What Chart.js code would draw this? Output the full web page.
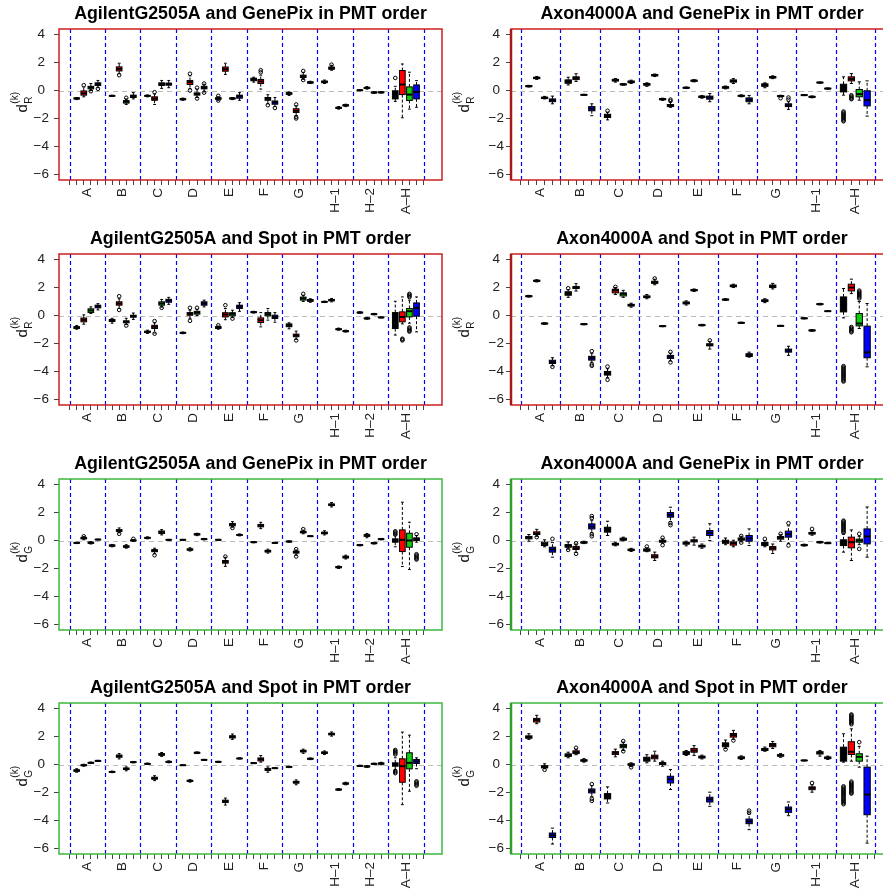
<!DOCTYPE html>
<html>
<head>
<meta charset="utf-8">
<script src="https://cdn.jsdelivr.net/npm/chart.js@4.4.1/dist/chart.umd.min.js"></script>
<style>
  html, body { margin: 0; padding: 0; background: #fff; overflow: hidden; }
  #wrap { position: relative; width: 883px; height: 890px; overflow: hidden; }
  #wrap canvas { position: absolute; }
</style>
</head>
<body>
<div id="wrap"></div>
<script>
// every box: [lower whisker, Q1, median, Q3, upper whisker, ...outliers]
const groupsLeft = ['A', 'B', 'C', 'D', 'E', 'F', 'G', 'H–1', 'H–2', 'A–H'];
const groupsRight = ['A', 'B', 'C', 'D', 'E', 'F', 'G', 'H–1', 'A–H'];
const yTicks = [-6, -4, -2, 0, 2, 4];

const agilentGenePixR = [
  [-0.65, -0.6, -0.57, -0.53, -0.5], [-0.45, -0.33, -0.2, -0.03, 0.25, 0.38], [0.0, 0.12, 0.22, 0.3, 0.5, -0.05], [0.2, 0.36, 0.45, 0.55, 0.72, 0.12],
  [-0.42, -0.4, -0.38, -0.36, -0.34], [1.2, 1.4, 1.55, 1.69, 1.95, 1.1], [-1.0, -0.9, -0.8, -0.72, -0.6, -0.52], [-0.6, -0.5, -0.4, -0.33, -0.15],
  [-0.45, -0.41, -0.38, -0.35, -0.32], [-1.0, -0.7, -0.58, -0.45, -0.25, -0.12], [0.15, 0.36, 0.47, 0.55, 0.72], [0.2, 0.38, 0.47, 0.53, 0.72],
  [-0.7, -0.66, -0.62, -0.58, -0.54], [0.15, 0.43, 0.6, 0.72, 1.05, 1.2, 0.0], [-0.5, -0.33, -0.25, -0.17, 0.1, 0.2, -0.57], [-0.1, 0.12, 0.2, 0.3, 0.45, 0.5, -0.15],
  [-0.7, -0.62, -0.57, -0.52, -0.45, -0.38, -0.72], [1.15, 1.38, 1.52, 1.68, 1.95], [-0.65, -0.6, -0.57, -0.53, -0.5], [-0.7, -0.55, -0.42, -0.33, -0.15],
  [0.6, 0.7, 0.8, 0.88, 0.95], [0.1, 0.5, 0.65, 0.79, 1.1, 1.3, 1.45], [-0.95, -0.7, -0.6, -0.5, -0.3, -1.05], [-1.15, -0.98, -0.85, -0.75, -0.5, -1.25],
  [-0.35, -0.27, -0.21, -0.16, -0.1], [-1.8, -1.57, -1.45, -1.3, -1.1, -1.0, -1.9, -2.0], [0.8, 0.93, 1.02, 1.1, 1.3, 1.4, 0.75], [0.5, 0.53, 0.58, 0.62, 0.66],
  [0.5, 0.56, 0.62, 0.68, 0.75], [1.45, 1.52, 1.6, 1.68, 1.8, 1.85], [-1.33, -1.28, -1.24, -1.2, -1.15], [-1.15, -1.1, -1.06, -1.02, -0.98],
  [-0.02, 0, 0.02, 0.04, 0.06], [0.1, 0.15, 0.19, 0.22, 0.28], [-0.2, -0.17, -0.14, -0.11, -0.08], [-0.18, -0.16, -0.13, -0.11, -0.08],
  [-0.78, -0.6, -0.3, -0.02, 0.3, 0.9], [-1.95, -0.29, 0.43, 1.43, 1.9], [-1.33, -0.71, -0.29, 0.26, 1.31], [-1.2, -0.6, -0.1, 0.4, 0.71]
];

const axonGenePixR = [
  [0.25, 0.28, 0.31, 0.34, 0.37], [0.8, 0.85, 0.9, 0.95, 1.0], [-0.6, -0.56, -0.52, -0.48, -0.42], [-0.95, -0.8, -0.7, -0.6, -0.4],
  [0.4, 0.52, 0.65, 0.76, 0.95], [0.65, 0.78, 0.9, 0.98, 1.2], [-0.35, -0.33, -0.31, -0.29, -0.27], [-1.8, -1.45, -1.3, -1.15, -0.95],
  [-2.1, -1.93, -1.83, -1.7, -1.55, -1.45], [0.6, 0.68, 0.74, 0.8, 0.86], [0.38, 0.41, 0.44, 0.47, 0.5], [0.5, 0.56, 0.62, 0.68, 0.74],
  [0.3, 0.38, 0.45, 0.5, 0.55], [1.0, 1.05, 1.1, 1.14, 1.18], [-0.7, -0.66, -0.62, -0.58, -0.55], [-1.2, -1.15, -1.07, -1.0, -0.8, -0.65, -0.75],
  [0.14, 0.17, 0.2, 0.22, 0.25], [0.62, 0.66, 0.7, 0.74, 0.78], [-0.55, -0.5, -0.45, -0.4, -0.35], [-0.8, -0.62, -0.5, -0.4, -0.22],
  [0.12, 0.17, 0.22, 0.27, 0.32], [0.5, 0.6, 0.68, 0.76, 0.85], [-0.45, -0.41, -0.38, -0.35, -0.31], [-0.95, -0.8, -0.67, -0.53, -0.35],
  [0.2, 0.3, 0.4, 0.48, 0.55], [0.85, 0.9, 0.95, 1.0, 1.05], [-0.45, -0.42, -0.4, -0.37, -0.34, -0.55], [-1.35, -1.15, -1.05, -0.95, -0.8, -0.5, -0.65],
  [-0.36, -0.34, -0.33, -0.31, -0.3], [-0.52, -0.48, -0.45, -0.42, -0.39], [0.53, 0.55, 0.57, 0.59, 0.61], [0.1, 0.12, 0.14, 0.16, 0.18],
  [-0.33, -0.1, 0.2, 0.45, 0.98, -1.5, -1.58, -1.66, -1.74, -1.82, -1.9, -1.98, -2.06, -2.14, -2.2],
  [0.5, 0.69, 0.83, 0.98, 1.21, -0.34, -0.42, -0.5, -0.58, -0.62],
  [-0.69, -0.45, -0.26, 0.07, 0.62], [-1.83, -1.1, -0.69, -0.02, 0.69]
];

const agilentSpotR = [
  [-0.98, -0.92, -0.86, -0.8, -0.72], [-0.62, -0.45, -0.31, -0.18, 0.05], [0.14, 0.22, 0.36, 0.48, 0.62], [0.4, 0.55, 0.67, 0.74, 0.85],
  [-0.55, -0.43, -0.35, -0.28, -0.2], [0.5, 0.74, 0.86, 0.98, 1.2, 1.38, 0.4], [-0.65, -0.52, -0.45, -0.38, -0.2, -0.72], [-0.28, -0.12, -0.05, 0.02, 0.18],
  [-1.28, -1.22, -1.17, -1.12, -1.05], [-1.25, -0.93, -0.81, -0.7, -0.52, -0.4, -1.3], [0.6, 0.74, 0.86, 0.98, 1.15, 0.55], [0.8, 0.95, 1.08, 1.16, 1.3],
  [-1.3, -1.27, -1.24, -1.21, -1.18], [-0.2, 0.02, 0.12, 0.21, 0.38, 0.55, -0.38], [0.0, 0.1, 0.21, 0.3, 0.45, 0.55], [0.62, 0.74, 0.86, 0.98, 1.1],
  [-0.98, -0.92, -0.86, -0.8, -0.75, -0.7], [-0.3, -0.1, 0.07, 0.2, 0.5, 0.74], [-0.15, -0.02, 0.12, 0.2, 0.38, -0.22], [0.3, 0.5, 0.64, 0.74, 0.92],
  [0.18, 0.21, 0.24, 0.27, 0.3], [-0.81, -0.5, -0.33, -0.17, 0.21], [-0.33, -0.02, 0.1, 0.21, 0.5], [-0.48, -0.21, -0.1, 0.02, 0.21],
  [-0.95, -0.8, -0.7, -0.6, -0.52], [-1.7, -1.52, -1.43, -1.33, -1.12, -1.78], [1.0, 1.1, 1.22, 1.32, 1.45, 1.55], [0.95, 1.02, 1.08, 1.14, 1.2],
  [0.94, 0.96, 0.98, 1.0, 1.02], [0.98, 1.05, 1.1, 1.15, 1.22], [-1.05, -1.01, -0.98, -0.95, -0.9], [-1.18, -1.15, -1.12, -1.09, -1.05],
  [0.16, 0.19, 0.21, 0.24, 0.27], [-0.26, -0.23, -0.21, -0.18, -0.15], [0.05, 0.08, 0.1, 0.12, 0.15], [-0.17, -0.15, -0.14, -0.12, -0.1],
  [-1.4, -0.93, -0.62, 0.21, 1.02],
  [-0.6, -0.45, -0.1, 0.26, 1.33, -1.66, -1.72, -1.78],
  [-0.55, -0.1, 0.31, 0.5, 1.1, 1.32, 1.4, 1.48, 1.55, -0.85, -0.93, -1.01, -1.09, -1.15],
  [-1.17, -0.05, 0.55, 0.9, 1.33]
];

const axonSpotR = [
  [1.32, 1.35, 1.38, 1.41, 1.44], [2.4, 2.45, 2.48, 2.52, 2.56], [-0.62, -0.6, -0.57, -0.55, -0.52], [-3.6, -3.43, -3.33, -3.2, -3.02, -3.67],
  [1.3, 1.45, 1.6, 1.7, 1.85, 1.95], [1.75, 1.93, 2.0, 2.08, 2.28], [-0.66, -0.64, -0.62, -0.6, -0.57], [-3.35, -3.19, -3.05, -2.92, -2.7, -2.55, -3.5, -3.6],
  [-4.45, -4.26, -4.12, -4.0, -3.8, -3.65, -4.6], [1.5, 1.62, 1.8, 1.88, 2.0, 2.05], [1.3, 1.4, 1.55, 1.62, 1.8], [0.6, 0.68, 0.74, 0.8, 0.88],
  [1.2, 1.28, 1.34, 1.4, 1.5], [2.2, 2.3, 2.38, 2.45, 2.6, 2.65], [-0.8, -0.78, -0.76, -0.74, -0.72], [-3.25, -3.07, -2.95, -2.85, -2.7, -2.6, -3.35],
  [0.75, 0.83, 0.9, 0.97, 1.05], [1.72, 1.77, 1.82, 1.86, 1.9], [-0.74, -0.72, -0.69, -0.66, -0.63], [-2.4, -2.17, -2.1, -2.02, -1.85, -1.78],
  [1.08, 1.11, 1.14, 1.17, 1.2], [2.0, 2.06, 2.12, 2.18, 2.24], [-0.56, -0.54, -0.52, -0.5, -0.48], [-2.98, -2.93, -2.83, -2.73, -2.62],
  [0.92, 1.0, 1.06, 1.12, 1.2], [1.9, 2.0, 2.1, 2.18, 2.3], [-0.78, -0.76, -0.74, -0.72, -0.7], [-2.85, -2.62, -2.5, -2.4, -2.2],
  [-0.24, -0.22, -0.2, -0.18, -0.16], [-1.12, -1.09, -1.07, -1.04, -1.0], [0.76, 0.79, 0.81, 0.84, 0.87], [0.3, 0.3, 0.31, 0.32, 0.32],
  [-0.17, 0.26, 0.8, 1.33, 1.93, -3.62, -3.7, -3.78, -3.86, -3.94, -4.02, -4.1, -4.18, -4.26, -4.34, -4.42, -4.5, -4.58, -4.66, -4.72],
  [1.57, 1.76, 2.0, 2.24, 2.6, -0.82, -0.9, -0.98, -1.06, -1.14, -1.2],
  [-0.93, -0.74, -0.57, 0.14, 1.0, 1.22, 1.3, 1.38, 1.46, 1.54, 1.62, 1.7, 1.78],
  [-3.67, -3.02, -2.64, -0.76, 0.86]
];

const agilentGenePixG = [
  [-0.22, -0.19, -0.17, -0.15, -0.12], [0.05, 0.12, 0.17, 0.22, 0.28, 0.3], [-0.25, -0.2, -0.16, -0.12, -0.08], [0.04, 0.06, 0.07, 0.08, 0.1],
  [-0.45, -0.4, -0.36, -0.32, -0.28], [0.55, 0.65, 0.71, 0.78, 0.9, 0.48], [-0.55, -0.48, -0.43, -0.38, -0.3], [-0.05, -0.02, 0.0, 0.03, 0.07, 0.12],
  [0.12, 0.16, 0.19, 0.22, 0.26], [-0.95, -0.8, -0.72, -0.65, -0.55, -1.05], [0.4, 0.5, 0.6, 0.68, 0.78], [0.02, 0.04, 0.05, 0.06, 0.08],
  [0.02, 0.04, 0.05, 0.06, 0.08], [-0.75, -0.69, -0.64, -0.6, -0.52], [0.35, 0.4, 0.45, 0.48, 0.52], [0.05, 0.08, 0.1, 0.12, 0.15],
  [0.02, 0.04, 0.05, 0.06, 0.08], [-1.85, -1.62, -1.52, -1.43, -1.2, -1.15], [0.95, 1.05, 1.14, 1.22, 1.35, 0.9], [0.33, 0.37, 0.4, 0.43, 0.47],
  [-0.16, -0.14, -0.12, -0.1, -0.08], [0.85, 0.98, 1.07, 1.15, 1.3], [-0.9, -0.82, -0.76, -0.7, -0.62], [-0.2, -0.18, -0.17, -0.15, -0.13],
  [-0.12, -0.1, -0.07, -0.05, -0.03], [-1.05, -0.9, -0.83, -0.76, -0.68, -0.62, -1.14], [0.48, 0.55, 0.6, 0.66, 0.74, 0.81], [0.29, 0.3, 0.31, 0.32, 0.33],
  [0.4, 0.48, 0.54, 0.6, 0.7], [2.4, 2.5, 2.55, 2.62, 2.72], [-2.0, -1.95, -1.9, -1.86, -1.82], [-1.32, -1.25, -1.19, -1.12, -1.05],
  [-0.38, -0.35, -0.33, -0.3, -0.28], [0.2, 0.3, 0.36, 0.42, 0.5], [-0.25, -0.22, -0.19, -0.16, -0.13], [0.05, 0.08, 0.1, 0.12, 0.15],
  [-0.45, -0.12, 0.0, 0.12, 0.4, 0.42, 0.5, 0.58, 0.66],
  [-1.86, -0.79, 0.05, 0.76, 2.74],
  [-2.07, -0.48, 0.0, 0.52, 1.31],
  [-0.12, 0.0, 0.1, 0.19, 0.36, 0.45, -0.98, -1.06, -1.14, -1.22, -1.3, -1.36]
];

const axonGenePixG = [
  [-0.05, 0.12, 0.21, 0.29, 0.43], [0.3, 0.43, 0.5, 0.62, 0.8, 0.24], [-0.45, -0.36, -0.24, -0.12, 0.05], [-1.19, -0.83, -0.64, -0.48, -0.15, 0.12],
  [-0.62, -0.48, -0.38, -0.29, -0.1, -0.67], [-0.85, -0.64, -0.55, -0.42, -0.25, -0.2, -0.95], [-0.22, -0.18, -0.14, -0.1, -0.05], [0.55, 0.83, 1.0, 1.19, 1.45, 1.6, 1.75, 0.45, 0.3],
  [0.36, 0.6, 0.8, 0.95, 1.38], [-0.38, -0.32, -0.26, -0.2, -0.12], [-0.02, 0.02, 0.1, 0.17, 0.24], [-0.78, -0.72, -0.67, -0.62, -0.56],
  [-0.8, -0.76, -0.67, -0.6, -0.52, -0.43], [-1.43, -1.24, -1.14, -1.02, -0.83], [-0.2, -0.12, -0.05, 0.02, 0.12, 0.2, -0.33], [1.35, 1.67, 1.83, 2.0, 2.38, 1.25, 1.1],
  [-0.38, -0.26, -0.19, -0.12, -0.05], [-0.33, -0.1, -0.02, 0.05, 0.24], [-0.55, -0.46, -0.4, -0.34, -0.25], [0.0, 0.36, 0.55, 0.71, 1.2],
  [-0.3, -0.2, -0.08, 0.02, 0.18], [-0.45, -0.33, -0.19, -0.1, 0.02], [-0.1, 0.02, 0.1, 0.18, 0.3, 0.33, -0.15], [-0.36, -0.05, 0.15, 0.36, 0.83],
  [-0.45, -0.36, -0.26, -0.14, 0.0, 0.12], [-0.93, -0.67, -0.55, -0.43, -0.25], [-0.05, 0.1, 0.19, 0.29, 0.42, 0.48], [-0.2, 0.24, 0.45, 0.67, 1.05, 1.24, -0.36],
  [-0.4, -0.36, -0.33, -0.3, -0.26], [0.38, 0.46, 0.52, 0.58, 0.7, 0.83], [-0.18, -0.15, -0.12, -0.09, -0.06], [-0.22, -0.2, -0.19, -0.17, -0.15],
  [-0.83, -0.36, -0.19, 0.05, 0.45, 0.56, 0.64, 0.72, 0.8, 0.88, 0.96, 1.04, 1.12, 1.2, 1.28, 1.36, 1.42],
  [-1.43, -0.52, -0.12, 0.24, 0.76],
  [-0.3, -0.12, 0.0, 0.1, 0.3, 0.48, -0.6],
  [-1.19, -0.24, 0.29, 0.83, 2.4]
];

const agilentSpotG = [
  [-0.55, -0.48, -0.43, -0.38, -0.3], [-0.12, -0.08, -0.05, -0.02, 0.02], [0.07, 0.1, 0.12, 0.15, 0.18], [0.22, 0.24, 0.26, 0.28, 0.3],
  [-0.58, -0.55, -0.53, -0.5, -0.47], [0.4, 0.52, 0.6, 0.68, 0.78], [-0.45, -0.36, -0.31, -0.25, -0.17], [0.12, 0.15, 0.17, 0.19, 0.22],
  [0.0, 0.03, 0.05, 0.07, 0.1], [-1.15, -1.05, -0.98, -0.91, -0.8], [0.58, 0.66, 0.72, 0.78, 0.86], [0.12, 0.16, 0.19, 0.22, 0.26],
  [-0.07, -0.06, -0.05, -0.04, -0.03], [-1.26, -1.21, -1.17, -1.13, -1.08], [0.78, 0.81, 0.84, 0.87, 0.9], [0.3, 0.32, 0.33, 0.35, 0.37],
  [0.16, 0.18, 0.19, 0.21, 0.23], [-2.9, -2.72, -2.63, -2.55, -2.4], [1.8, 1.9, 1.98, 2.06, 2.18], [0.4, 0.42, 0.43, 0.45, 0.47],
  [0.07, 0.09, 0.1, 0.12, 0.13], [0.17, 0.26, 0.38, 0.47, 0.64], [-0.55, -0.42, -0.36, -0.28, -0.17], [-0.28, -0.27, -0.26, -0.25, -0.24],
  [-0.22, -0.19, -0.17, -0.15, -0.12], [-1.45, -1.33, -1.27, -1.2, -1.1], [0.8, 0.9, 0.96, 1.02, 1.1], [0.35, 0.38, 0.41, 0.44, 0.47],
  [0.72, 0.79, 0.84, 0.9, 0.97], [2.03, 2.12, 2.18, 2.24, 2.33], [-1.84, -1.82, -1.79, -1.76, -1.73], [-1.45, -1.4, -1.36, -1.32, -1.27],
  [-0.14, -0.12, -0.1, -0.08, -0.05], [-0.2, -0.17, -0.14, -0.11, -0.08], [0.0, 0.03, 0.05, 0.07, 0.1], [-0.02, 0.03, 0.07, 0.11, 0.16],
  [-0.36, -0.12, 0.0, 0.12, 0.48, 0.72, 0.8, 0.88, 0.96, 1.04, -0.46, -0.54, -0.62],
  [-2.87, -1.27, -0.12, 0.41, 2.32],
  [-1.91, -0.31, 0.12, 0.84, 2.1],
  [-0.3, 0.07, 0.22, 0.36, 0.48, -1.2, -1.28, -1.36, -1.44, -1.52]
];

const axonSpotG = [
  [1.8, 1.88, 1.96, 2.05, 2.2], [2.92, 3.04, 3.18, 3.3, 3.52], [-0.3, -0.24, -0.17, -0.08, 0.05, -0.38], [-5.69, -5.22, -5.07, -4.9, -4.55],
  [0.48, 0.58, 0.67, 0.76, 0.88], [0.7, 0.78, 0.88, 0.98, 1.1, 1.2], [0.17, 0.24, 0.29, 0.34, 0.42], [-2.3, -2.03, -1.89, -1.75, -1.5, -1.4, -2.45, -2.6],
  [-2.75, -2.46, -2.27, -2.08, -1.6], [0.55, 0.72, 0.84, 0.92, 1.1], [1.0, 1.2, 1.32, 1.44, 1.6, 1.68, 0.95], [-0.15, -0.05, 0.0, 0.05, 0.12, -0.2],
  [0.12, 0.24, 0.38, 0.52, 0.7], [0.24, 0.41, 0.55, 0.67, 0.95], [-0.12, 0.0, 0.07, 0.14, 0.24], [-1.79, -1.32, -1.05, -0.84, -0.36],
  [0.65, 0.72, 0.84, 0.92, 1.0], [0.65, 0.88, 1.0, 1.15, 1.35], [0.4, 0.47, 0.53, 0.6, 0.67], [-2.99, -2.68, -2.5, -2.34, -1.98],
  [1.15, 1.27, 1.42, 1.55, 1.75, 1.08], [1.8, 1.96, 2.1, 2.22, 2.44, 1.72], [0.36, 0.42, 0.48, 0.55, 0.62], [-4.66, -4.23, -4.07, -3.9, -3.55, -3.3, -3.45],
  [0.95, 1.0, 1.08, 1.15, 1.25], [1.15, 1.27, 1.39, 1.5, 1.65], [0.52, 0.6, 0.65, 0.7, 0.78], [-3.66, -3.42, -3.2, -3.04, -2.68],
  [0.26, 0.28, 0.29, 0.3, 0.32], [-1.98, -1.8, -1.67, -1.6, -1.45, -1.32], [0.6, 0.75, 0.84, 0.92, 1.0], [0.36, 0.42, 0.48, 0.54, 0.6],
  [0.17, 0.24, 0.8, 1.24, 2.2, -1.56, -1.64, -1.72, -1.8, -1.88, -1.96, -2.04, -2.12, -2.2, -2.28, -2.36, -2.44, -2.52, -2.6, -2.68, -2.76, -2.84],
  [0.24, 0.72, 0.91, 1.63, 2.55, 2.88, 2.96, 3.04, 3.12, 3.2, 3.28, 3.36, 3.44, 3.52, 3.58, -1.22, -1.3, -1.38, -1.46, -1.54, -1.62, -1.7, -1.78, -1.86, -1.94, -2.02, -2.08],
  [-0.19, 0.24, 0.55, 0.77, 1.3, 1.6],
  [-5.62, -3.59, -2.15, -0.19, 0.6]
];

const panels = [
  {title: 'AgilentG2505A and GenePix in PMT order', ch: 'R', boxes: agilentGenePixR, groups: groupsLeft, col: 0, row: 0},
  {title: 'Axon4000A and GenePix in PMT order', ch: 'R', boxes: axonGenePixR, groups: groupsRight, col: 1, row: 0},
  {title: 'AgilentG2505A and Spot in PMT order', ch: 'R', boxes: agilentSpotR, groups: groupsLeft, col: 0, row: 1},
  {title: 'Axon4000A and Spot in PMT order', ch: 'R', boxes: axonSpotR, groups: groupsRight, col: 1, row: 1},
  {title: 'AgilentG2505A and GenePix in PMT order', ch: 'G', boxes: agilentGenePixG, groups: groupsLeft, col: 0, row: 2},
  {title: 'Axon4000A and GenePix in PMT order', ch: 'G', boxes: axonGenePixG, groups: groupsRight, col: 1, row: 2},
  {title: 'AgilentG2505A and Spot in PMT order', ch: 'G', boxes: agilentSpotG, groups: groupsLeft, col: 0, row: 3},
  {title: 'Axon4000A and Spot in PMT order', ch: 'G', boxes: axonSpotG, groups: groupsRight, col: 1, row: 3}
];

// page geometry
const columns = [
  {left: 0, width: 450, yWidth: 59, xMin: -1.5, xMax: 52.6, yPad: 5, labX: 27},
  {left: 441, width: 460, yWidth: 70, xMin: -1.27, xMax: 47.29, yPad: 2, labX: 28}
];
const rowTops = [0, 225, 450, 674];
const boxFill = ['#000000', '#FF0000', '#11CC11', '#0000FF'];
const frameCol = {R: '#CC1F1F', G: '#3CB83C'};
const frameDark = {R: '#A81818', G: '#2E9E2E'};
const FONT = "'Liberation Sans', Arial, sans-serif";

Chart.defaults.font.family = FONT;

function slotPos(i) {
  return 5 * Math.floor(i / 4) + (i % 4) + 1;
}

function seg(ctx, x1, y1, x2, y2) {
  ctx.beginPath();
  ctx.moveTo(x1, y1);
  ctx.lineTo(x2, y2);
  ctx.stroke();
}

function boxLayer(panel) {
  const col = columns[panel.col];
  return {
    id: 'boxLayer',
    beforeDatasetsDraw(chart) {
      const {ctx, chartArea: a, scales: {x, y}} = chart;
      ctx.save();
      ctx.beginPath();
      ctx.rect(a.left, a.top, a.right - a.left, a.bottom - a.top);
      ctx.clip();

      // group separators
      ctx.strokeStyle = '#0000FF';
      ctx.lineWidth = 1.2;
      ctx.setLineDash([4, 3]);
      for (let g = 0; g <= panel.groups.length; g++) {
        const px = Math.round(x.getPixelForValue(g * 5)) + 0.5;
        seg(ctx, px, a.top, px, a.bottom);
      }
      // zero reference
      ctx.strokeStyle = '#BBBBBB';
      ctx.setLineDash([5, 4]);
      const y0 = Math.round(y.getPixelForValue(0)) + 0.5;
      seg(ctx, a.left, y0, a.right, y0);

      panel.boxes.forEach((b, i) => {
        const pos = slotPos(i);
        const cx = x.getPixelForValue(pos);
        const hw = x.getPixelForValue(pos + 0.4) - cx;
        const cw = hw / 2;
        const [pLo, pQ1, pMed, pQ3, pHi] = b.slice(0, 5).map(v => y.getPixelForValue(v));
        ctx.strokeStyle = '#000';
        ctx.lineWidth = 1;
        ctx.setLineDash([3, 2]);
        seg(ctx, cx, pQ3, cx, pHi);
        seg(ctx, cx, pQ1, cx, pLo);
        ctx.setLineDash([]);
        seg(ctx, cx - cw, pHi, cx + cw, pHi);
        seg(ctx, cx - cw, pLo, cx + cw, pLo);
        ctx.fillStyle = boxFill[i % 4];
        ctx.fillRect(cx - hw, pQ3, 2 * hw, pQ1 - pQ3);
        ctx.strokeRect(cx - hw, pQ3, 2 * hw, pQ1 - pQ3);
        ctx.lineWidth = 2;
        seg(ctx, cx - hw, pMed, cx + hw, pMed);
      });
      ctx.restore();
    },
    afterDraw(chart) {
      const {ctx, chartArea: a} = chart;
      ctx.save();
      // frame
      ctx.strokeStyle = frameCol[panel.ch];
      ctx.lineWidth = 1.5;
      ctx.strokeRect(a.left, a.top, a.right - a.left, a.bottom - a.top);
      if (panel.col === 1) {
        ctx.strokeStyle = frameDark[panel.ch];
        ctx.lineWidth = 2.5;
        seg(ctx, a.left, a.top, a.left, a.bottom);
      }
      // title
      ctx.fillStyle = '#000';
      ctx.font = 'bold 17.8px ' + FONT;
      ctx.textAlign = 'center';
      ctx.textBaseline = 'middle';
      ctx.fillText(panel.title, (a.left + a.right) / 2, a.top - 15);
      // y axis title: d_R^(k) / d_G^(k)
      ctx.translate(col.labX, (a.top + a.bottom) / 2);
      ctx.rotate(-Math.PI / 2);
      ctx.textAlign = 'left';
      ctx.textBaseline = 'alphabetic';
      ctx.fillStyle = '#111';
      ctx.font = '15px ' + FONT;
      const dW = ctx.measureText('d').width;
      ctx.font = '10px ' + FONT;
      const kW = ctx.measureText('(k)').width;
      const x0 = -(dW + kW) / 2 + 2;
      ctx.font = '15px ' + FONT;
      ctx.fillText('d', x0, 0);
      ctx.font = '10px ' + FONT;
      ctx.fillText('(k)', x0 + dW + 0.5, -9);
      ctx.fillText(panel.ch, x0 + dW + 0.5, 4.5);
      ctx.restore();
    }
  };
}

const wrap = document.getElementById('wrap');

panels.forEach(panel => {
  const col = columns[panel.col];
  const canvas = document.createElement('canvas');
  canvas.width = col.width;
  canvas.height = 225;
  canvas.style.left = col.left + 'px';
  canvas.style.top = rowTops[panel.row] + 'px';
  canvas.style.width = col.width + 'px';
  canvas.style.height = '225px';
  wrap.appendChild(canvas);

  const nGroups = panel.groups.length;
  const outliers = [];
  panel.boxes.forEach((b, i) => {
    b.slice(5).forEach(v => outliers.push({x: slotPos(i), y: v}));
  });

  const xTickVals = [];
  for (let k = 0; k <= nGroups * 5; k++) xTickVals.push(k);
  for (let g = 0; g < nGroups; g++) xTickVals.push(g * 5 + 2.5);
  xTickVals.sort((p, q) => p - q);

  new Chart(canvas, {
    type: 'scatter',
    data: {
      datasets: [{
        data: outliers,
        pointRadius: 1.8,
        pointBorderWidth: 1,
        pointBorderColor: '#000',
        pointBackgroundColor: 'rgba(0,0,0,0)'
      }]
    },
    options: {
      responsive: false,
      animation: false,
      events: [],
      layout: {padding: {top: 29, right: 8, left: 0, bottom: 0}},
      plugins: {legend: {display: false}, tooltip: {enabled: false}},
      scales: {
        x: {
          type: 'linear',
          min: col.xMin,
          max: col.xMax,
          afterBuildTicks: s => { s.ticks = xTickVals.map(v => ({value: v})); },
          afterFit: s => { s.height = 45; },
          border: {display: false},
          grid: {
            drawOnChartArea: false,
            tickLength: 5,
            color: c => (c.tick && c.tick.value % 1 !== 0) ? 'rgba(0,0,0,0)' : '#444'
          },
          ticks: {
            autoSkip: false,
            minRotation: 90,
            maxRotation: 90,
            padding: 3,
            color: '#222',
            font: {size: 13.5},
            callback: v => {
              const g = (v - 2.5) / 5;
              return Number.isInteger(g) ? panel.groups[g] : '';
            }
          }
        },
        y: {
          min: -6.4,
          max: 4.4,
          afterBuildTicks: s => { s.ticks = yTicks.map(v => ({value: v})); },
          afterFit: s => { s.width = col.yWidth; },
          border: {display: false},
          grid: {drawOnChartArea: false, tickLength: 5, color: '#444'},
          ticks: {
            padding: col.yPad,
            crossAlign: 'center',
            color: '#222',
            font: {size: 13.5},
            callback: v => v < 0 ? '\u2212' + (-v) : String(v)
          }
        }
      }
    },
    plugins: [boxLayer(panel)]
  });
});
</script>
</body>
</html>
